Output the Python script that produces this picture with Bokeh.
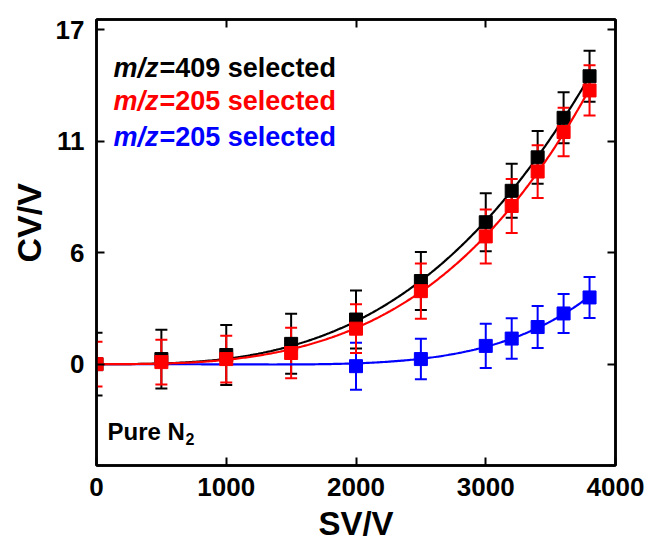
import numpy as np
from bokeh.plotting import figure
from bokeh.models import (ColumnDataSource, Whisker, TeeHead, Label, LinearAxis,
                          FixedTicker, Range1d, Title)
from bokeh.embed import file_html
from bokeh.resources import INLINE

# Separation voltage (V) and compensation voltage (V) measurements
sv_all = [0, 500, 1000, 1500, 2000, 2500, 3000, 3200, 3400, 3600, 3800]
cv_409 = [0.0, 0.25, 0.45, 1.0, 2.2, 4.1, 7.0, 8.55, 10.2, 12.15, 14.2]
err_409 = [1.55, 1.45, 1.48, 1.48, 1.43, 1.43, 1.43, 1.33, 1.3, 1.26, 1.26]

cv_205_red = [0.0, 0.1, 0.25, 0.55, 1.75, 3.6, 6.3, 7.8, 9.5, 11.45, 13.5]
err_205_red = [1.1, 1.1, 1.15, 1.25, 1.2, 1.36, 1.33, 1.33, 1.3, 1.2, 1.24]

sv_blue = [2000, 2500, 3000, 3200, 3400, 3600, 3800]
cv_205_blue = [-0.1, 0.25, 0.9, 1.26, 1.83, 2.5, 3.29]
err_205_blue = [1.16, 1.0, 1.09, 1.0, 1.04, 0.96, 1.01]

x_ticks = [0, 1000, 2000, 3000, 4000]
y_ticks = [0, 5.5, 11, 16.5]
y_tick_labels = ["0", "6", "11", "17"]

legend_labels = ["=409 selected", "=205 selected", "=205 selected"]
series_colors = ["#000000", "#ff0000", "#0000ff"]

FONT = "Liberation Sans"

p = figure(width=646, height=548, output_backend="svg", toolbar_location=None,
           x_range=Range1d(0, 4000), y_range=Range1d(-5, 17),
           min_border_left=96, min_border_right=31, min_border_top=19,
           min_border_bottom=83)
p.background_fill_color = "white"
p.border_fill_color = "white"
p.grid.visible = False
p.outline_line_color = "black"
p.outline_line_width = 2.5

def style_axis(ax, labels=True):
    ax.axis_line_width = 2.5
    ax.axis_line_color = "black"
    ax.major_tick_in = 8
    ax.major_tick_out = 0
    ax.major_tick_line_width = 2
    ax.minor_tick_in = 0
    ax.minor_tick_out = 0
    ax.major_label_text_font = FONT
    ax.major_label_text_font_style = "bold"
    ax.major_label_text_font_size = "26px"
    ax.major_label_text_color = "black"
    if not labels:
        # mirror axes carry ticks only
        ax.major_label_text_color = None
        ax.major_label_text_font_size = "1px"
        ax.major_label_standoff = 0

# Bottom and left axes
p.xaxis.ticker = FixedTicker(ticks=x_ticks)
p.yaxis.ticker = FixedTicker(ticks=y_ticks)
p.yaxis.major_label_overrides = {t: s for t, s in zip(y_ticks, y_tick_labels)}
style_axis(p.xaxis[0])
style_axis(p.yaxis[0])
p.xaxis.major_label_standoff = 12
p.yaxis.major_label_standoff = 12
p.xaxis.axis_label = "SV/V"
p.xaxis.axis_label_text_font = FONT
p.xaxis.axis_label_text_font_style = "bold"
p.xaxis.axis_label_text_font_size = "33px"
p.xaxis.axis_label_text_color = "black"
p.xaxis.axis_label_standoff = 6

# Mirror axes on top and right
top_ax = LinearAxis(ticker=FixedTicker(ticks=x_ticks))
right_ax = LinearAxis(ticker=FixedTicker(ticks=y_ticks))
style_axis(top_ax, labels=False)
style_axis(right_ax, labels=False)
p.add_layout(top_ax, "above")
p.add_layout(right_ax, "right")

# Vertical axis title, started part-way up the frame
p.add_layout(Title(text="CV/V", align="left", offset=203,
                   text_font=FONT, text_font_style="bold",
                   text_font_size="34px", text_color="black"), "left")

def fit_curve(x, y, xs):
    # least-squares fit CV = a*SV^3 + b*SV^5
    x = np.asarray(x, float) / 1000.0
    y = np.asarray(y, float)
    A = np.column_stack([x ** 3, x ** 5])
    coef, *_ = np.linalg.lstsq(A, y, rcond=None)
    xs_k = xs / 1000.0
    return np.column_stack([xs_k ** 3, xs_k ** 5]) @ coef

def draw_series(x, y, err, color):
    x = np.asarray(x, float)
    y = np.asarray(y, float)
    err = np.asarray(err, float)
    src = ColumnDataSource(dict(x=x, y=y, lo=y - err, hi=y + err))
    xs = np.linspace(0, x.max(), 300)
    p.line(xs, fit_curve(x, y, xs), line_color=color, line_width=2.2)
    p.add_layout(Whisker(source=src, base="x", lower="lo", upper="hi",
                         line_color=color, line_width=2,
                         lower_head=TeeHead(size=12, line_color=color, line_width=2),
                         upper_head=TeeHead(size=12, line_color=color, line_width=2)))
    p.scatter("x", "y", source=src, marker="square", size=13,
              fill_color=color, line_color=color)

draw_series(sv_all, cv_409, err_409, series_colors[0])
draw_series(sv_blue, cv_205_blue, err_205_blue, series_colors[2])
draw_series(sv_all, cv_205_red, err_205_red, series_colors[1])

# Legend text
legend_y = [14.62, 13.0, 11.2]
for text, color, yy in zip(legend_labels, series_colors, legend_y):
    p.add_layout(Label(x=131, y=yy, text="m/z", text_color=color,
                       text_font=FONT, text_font_style="bold italic",
                       text_font_size="27px", text_baseline="middle"))
    p.add_layout(Label(x=131, y=yy, x_offset=46, text=text, text_color=color,
                       text_font=FONT, text_font_style="bold",
                       text_font_size="27px", text_baseline="middle"))

# Gas annotation
p.add_layout(Label(x=85, y=-3.31, text="Pure N", text_font=FONT,
                   text_font_style="bold", text_font_size="24px",
                   text_baseline="middle", text_color="black"))
p.add_layout(Label(x=85, y=-3.31, x_offset=78, y_offset=-8, text="2",
                   text_font=FONT, text_font_style="bold",
                   text_font_size="16px", text_baseline="middle",
                   text_color="black"))

open("out.html", "w").write(file_html(p, INLINE))
